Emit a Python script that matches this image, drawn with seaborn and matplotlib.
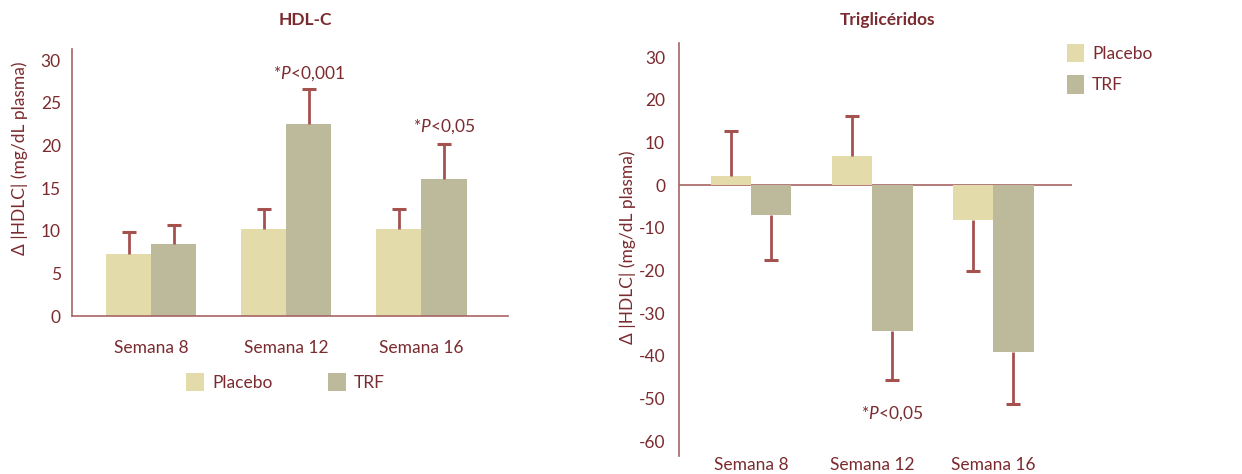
import seaborn as sns
import matplotlib.pyplot as plt
import pandas as pd
from matplotlib.patches import Patch

weeks = ["Semana 8", "Semana 12", "Semana 16"]
groups = ["Placebo", "TRF"]
hdl_placebo = [7.3, 10.2, 10.2]
hdl_trf = [8.4, 22.5, 16.1]
hdl_placebo_err = [2.5, 2.3, 2.4]
hdl_trf_err = [2.3, 4.1, 4.1]
tg_placebo = [2.2, 6.9, -8.2]
tg_trf = [-7.0, -34.2, -39.1]
tg_placebo_err = [10.5, 9.3, 11.9]
tg_trf_err = [10.6, 11.4, 12.2]
hdl_yticks = [0, 5, 10, 15, 20, 25, 30]
tg_yticks = [30, 20, 10, 0, -10, -20, -30, -40, -50, -60]

sns.set_theme(style="white")
FONT = "Lato"
plt.rcParams["font.family"] = [FONT, "DejaVu Sans"]
plt.rcParams["mathtext.fontset"] = "custom"
plt.rcParams["mathtext.it"] = FONT + ":italic"
plt.rcParams["mathtext.rm"] = FONT
plt.rcParams["axes.unicode_minus"] = False

TXT = "#7b2b2f"
SPINE = "#a86464"
ERR = "#a5524f"
COLORS = {"Placebo": "#e3dcaa", "TRF": "#bdb99b"}
FS = 12.5

fig = plt.figure(figsize=(12.42, 4.74), dpi=100)
axL = fig.add_axes([0.058, 0.3333, 0.351, 0.5633])
axR = fig.add_axes([0.5467, 0.0385, 0.3164, 0.8708])


def draw(ax, p_vals, t_vals, p_err, t_err):
    df = pd.DataFrame({
        "week": weeks * 2,
        "group": ["Placebo"] * 3 + ["TRF"] * 3,
        "value": list(p_vals) + list(t_vals),
    })
    sns.barplot(data=df, x="week", y="value", hue="group", hue_order=groups,
                order=weeks, palette=COLORS, width=0.667, saturation=1,
                legend=False, ax=ax, errorbar=None, zorder=2, linewidth=0)
    for cont, vals, errs in zip(ax.containers, [p_vals, t_vals], [p_err, t_err]):
        for patch, v, e in zip(cont.patches, vals, errs):
            x = patch.get_x() + patch.get_width() / 2
            end = v + e if v >= 0 else v - e
            ax.plot([x, x], [v, end], color=ERR, lw=2, zorder=3,
                    solid_capstyle="butt")
            ax.plot([x], [end], marker="_", ms=10, mew=2.2, color=ERR, zorder=3)
    ax.set_xlabel("")
    ax.set_ylabel("")
    for s in ["top", "right"]:
        ax.spines[s].set_visible(False)
    for s in ["left", "bottom"]:
        ax.spines[s].set_color(SPINE)
        ax.spines[s].set_linewidth(1.2)
    ax.tick_params(axis="both", length=0, colors=TXT, labelsize=FS)


draw(axL, hdl_placebo, hdl_trf, hdl_placebo_err, hdl_trf_err)
axL.set_ylim(0, 31.3)
axL.set_xlim(-0.585, 2.64)
axL.set_yticks(hdl_yticks)
axL.tick_params(axis="x", pad=17)
axL.tick_params(axis="y", pad=8)
axL.text(1.167, 28.4, "*$\\mathit{P}$<0,001", ha="center", va="center", color=TXT, fontsize=FS)
axL.text(2.167, 22.2, "*$\\mathit{P}$<0,05", ha="center", va="center", color=TXT, fontsize=FS)

draw(axR, tg_placebo, tg_trf, tg_placebo_err, tg_trf_err)
axR.set_ylim(-63.4, 33.3)
axR.set_xlim(-0.595, 2.65)
axR.set_yticks(tg_yticks)
axR.spines["bottom"].set_visible(False)
axR.axhline(0, color=SPINE, lw=1.2, zorder=1)
axR.tick_params(axis="x", pad=1)
axR.tick_params(axis="y", pad=10)
axR.text(1.167, -53.6, "*$\\mathit{P}$<0,05", ha="center", va="center", color=TXT, fontsize=FS)

fig.text(305 / 1242, 1 - 20 / 474, "HDL-C", ha="center", va="center",
         color=TXT, fontsize=FS, fontweight="bold")
fig.text(888 / 1242, 1 - 20 / 474, "Triglicéridos", ha="center", va="center",
         color=TXT, fontsize=FS, fontweight="bold")
fig.text(20 / 1242, 1 - 158 / 474, "Δ |HDLC| (mg/dL plasma)", rotation=90,
         ha="center", va="center", color=TXT, fontsize=FS)
fig.text(628 / 1242, 1 - 247 / 474, "Δ |HDLC| (mg/dL plasma)", rotation=90,
         ha="center", va="center", color=TXT, fontsize=FS)

handles = [Patch(facecolor=COLORS[g], edgecolor="none", label=g) for g in groups]
fig.legend(handles=handles, loc="upper left", bbox_to_anchor=(186 / 1242, 1 - 373 / 474),
           ncol=2, frameon=False, fontsize=FS, labelcolor=TXT, handlelength=1.05,
           handleheight=1.25, handletextpad=0.45, columnspacing=3.2, borderpad=0,
           borderaxespad=0)
fig.legend(handles=handles, loc="upper left", bbox_to_anchor=(1067 / 1242, 1 - 44 / 474),
           ncol=1, frameon=False, fontsize=FS, labelcolor=TXT, handlelength=1.0,
           handleheight=1.25, handletextpad=0.45, labelspacing=0.75, borderpad=0,
           borderaxespad=0)

fig.savefig("out.png", dpi=100)
